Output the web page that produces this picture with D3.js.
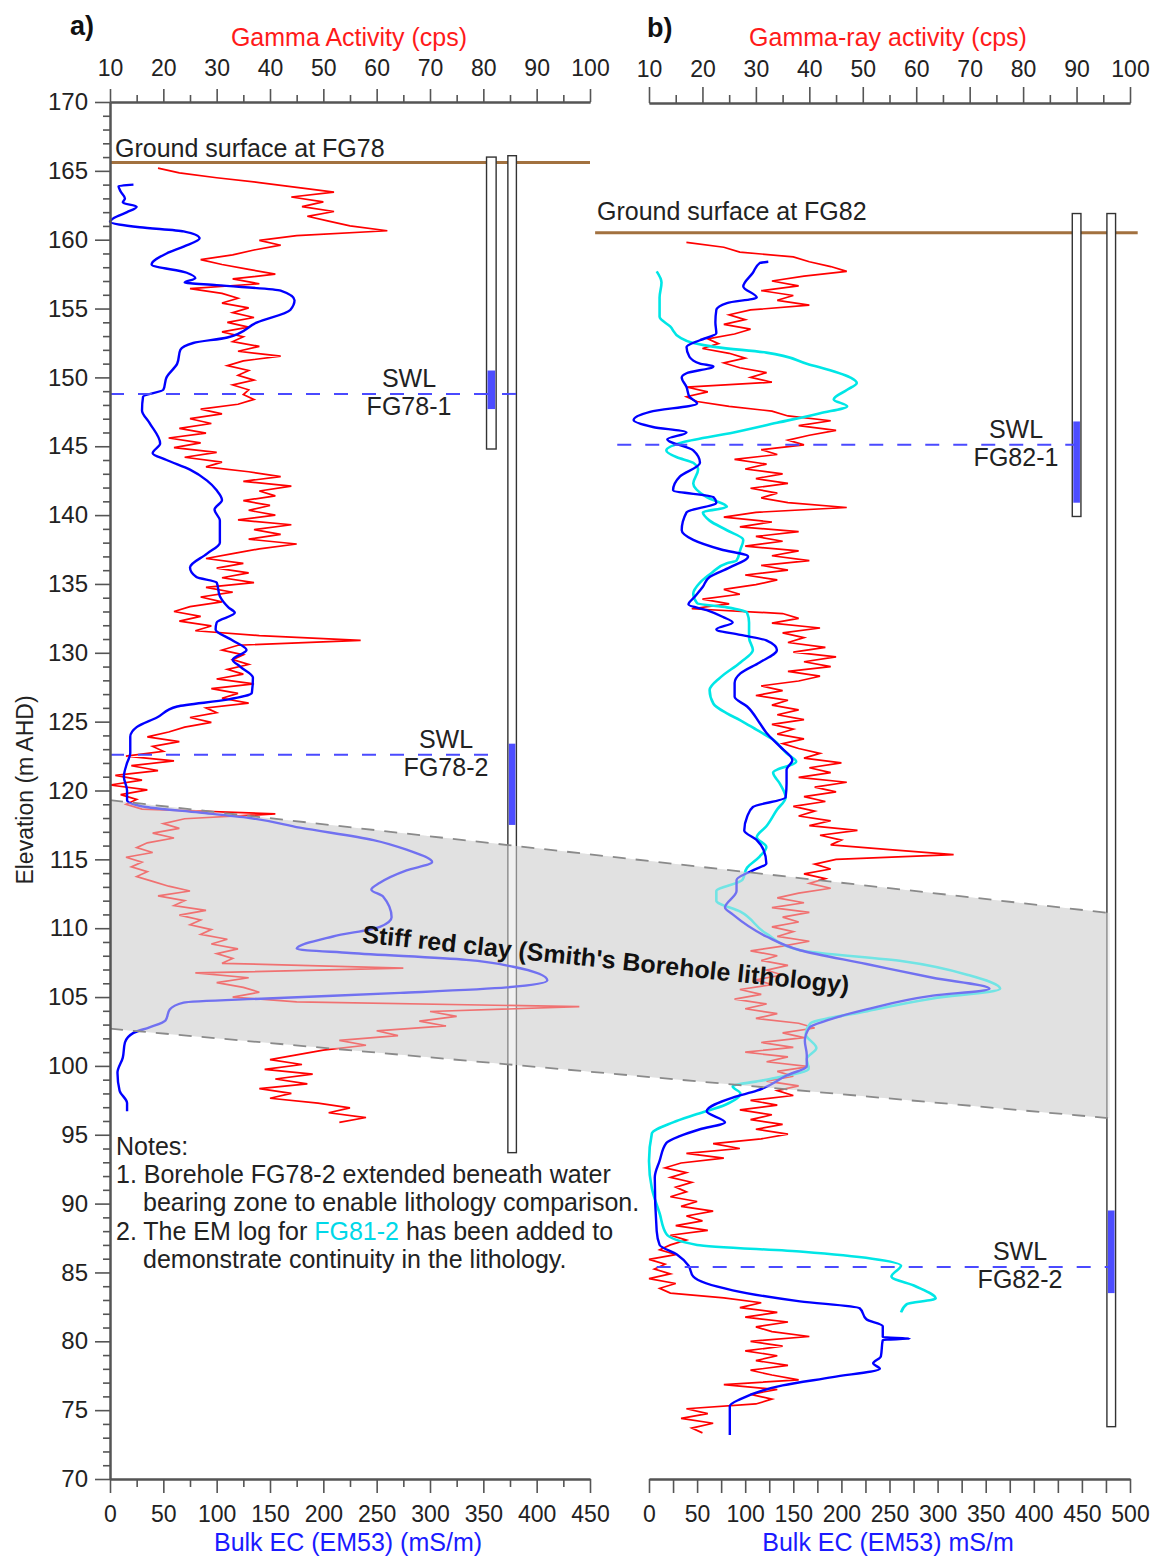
<!DOCTYPE html>
<html><head><meta charset="utf-8">
<script src="https://cdn.jsdelivr.net/npm/d3@7"></script>
<style>
body{margin:0;background:#fff}
text{font-family:"Liberation Sans",Arial,Helvetica,sans-serif;fill:#222}
</style>
</head><body><script>
// ---------------- DATA ----------------
const elevTicks = [70,75,80,85,90,95,100,105,110,115,120,125,130,135,140,145,150,155,160,165,170];
const gammaTicks = [10,20,30,40,50,60,70,80,90,100];
const ecTicksA = [0,50,100,150,200,250,300,350,400,450];
const ecTicksB = [0,50,100,150,200,250,300,350,400,450,500];

// Gamma logs (cps), sampled every 0.35 m downward from the first elevation
const gammaA_start = 165.2, gammaA_step = 0.35;
const gammaA = [19,23,30,38,45,52,44,50,46,52,47,51,55,62,45,38,42,37,33,27,31,36,41,33,38,25,31,34,31,36,33,37,32,36,31,35,33,38,34,42,35,32,36,34,37,33,36,35,37,34,27,31,25,29,23,28,21,27,22,30,24,31,28,36,42,35,44,38,41,35,40,36,41,34,44,37,42,36,45,38,33,28,35,30,36,31,37,28,33,27,31,25,22,27,23,29,26,38,57,34,31,35,33,36,32,35,30,37,29,34,31,36,28,30,25,29,24,21,17,23,18,20,13,22,14,19,11,16,10,17,12,15,13,16,41,24,20,23,18,22,17,15,18,13,16,14,17,15,18,21,25,19,24,22,28,23,27,25,29,27,32,29,34,30,33,31,65,26,36,30,35,38,33,45,98,70,75,68,73,60,64,53,58,50,45,40,46,39,48,41,47,38,44,40,49,55,51,58,53];
const gammaB_start = 159.8, gammaB_step = 0.35;
const gammaB = [17,24,27,37,40,44,47,39,33,38,31,37,34,40,29,25,28,24,29,26,21,23,20,25,28,24,27,32,29,33,17,21,17,19,25,33,36,44,38,45,40,36,39,31,34,26,32,28,35,30,36,29,34,31,36,47,30,24,33,27,38,30,35,28,38,33,40,31,36,28,34,30,24,27,20,25,18,35,38,33,42,35,39,36,43,37,45,39,44,36,42,38,31,35,30,36,33,38,34,39,33,37,34,39,35,38,42,39,46,40,44,38,47,41,45,39,43,37,41,38,44,40,49,42,46,44,55,67,45,41,44,39,43,40,44,38,34,39,33,40,35,38,33,37,34,40,35,29,34,31,36,32,35,30,33,27,31,26,32,28,34,30,38,41,35,39,31,37,28,36,32,40,34,37,32,38,34,37,29,34,27,33,29,35,30,36,31,22,27,17,24,16,13,17,14,18,15,17,14,19,16,22,17,20,15,21,14,17,14,12,15,10,13,11,14,10,15,12,14,24,31,27,34,28,36,30,33,40,29,35,28,34,30,36,29,33,38,24,34,29,33,30,17,21,16,22,18,20];

// Bulk EC logs (mS/m): [elevation, EC]
const ecFG78 = [[164.0,22],[163.9,8],[163.5,10],[163.0,14],[162.7,12],[162.4,25],[162.0,16],[161.6,4],[161.3,0],[160.9,28],[160.6,69],[160.1,84],[159.5,69],[159.0,53],[158.2,39],[157.6,72],[157.2,80],[156.9,70],[156.7,100],[156.3,160],[155.6,173],[154.9,169],[154.0,138],[152.9,110],[152.5,78],[152.0,66],[151.0,63],[150.0,53],[149.1,50],[148.6,31],[147.6,30],[146.7,37],[145.2,47],[144.5,40],[144.0,53],[143.3,75],[142.5,91],[141.8,100],[141.1,105],[140.4,98],[139.6,103],[138.0,103],[137.2,91],[136.2,75],[135.5,81],[135.1,100],[134.1,103],[133.3,111],[132.9,117],[132.2,100],[131.7,99],[130.9,115],[130.2,128],[129.5,115],[129.0,122],[128.2,134],[127.1,133],[126.6,110],[126.1,63],[125.3,44],[124.6,25],[123.9,19],[122.7,19],[122.0,16],[121.0,13],[120.0,16],[119.3,16],[118.8,34],[118.4,84],[118.0,131],[117.3,178],[116.4,247],[115.7,278],[114.8,302],[114.2,278],[113.3,253],[112.8,245],[112.3,256],[110.8,264],[110.1,253],[109.4,209],[108.5,175],[108.2,225],[107.7,334],[107.2,378],[106.2,410],[105.7,372],[105.3,272],[104.9,147],[104.6,69],[104.1,56],[103.3,52],[102.8,37],[102.4,22],[101.7,14],[100.6,12],[99.5,7],[98.2,9],[97.3,16],[96.7,16]];
const ecFG82 = [[158.4,124],[158.3,115],[157.6,108],[156.6,98],[155.8,112],[155.4,81],[154.9,70],[154.0,69],[153.2,70],[152.7,53],[152.2,39],[151.5,42],[151.0,53],[150.8,67],[150.3,39],[150.0,34],[149.3,39],[148.6,42],[148.1,50],[147.5,1],[146.9,-16],[146.4,4],[146.0,39],[145.5,19],[144.7,46],[143.8,53],[142.8,32],[141.8,25],[141.3,67],[140.9,70],[140.2,39],[138.9,34],[138.2,46],[137.5,75],[137.0,103],[136.2,84],[135.5,63],[134.8,56],[134.1,48],[133.5,41],[133.1,60],[132.6,77],[132.2,87],[131.7,70],[131.3,95],[130.9,122],[130.2,133],[129.3,115],[128.5,95],[127.8,89],[126.8,89],[126.1,102],[124.9,115],[124.2,122],[123.2,136],[122.2,149],[121.5,143],[120.5,143],[119.5,142],[118.8,108],[118.1,102],[117.1,99],[116.4,112],[115.7,119],[114.7,122],[114.2,108],[113.5,91],[112.7,91],[111.5,79],[111.0,87],[109.4,122],[108.4,157],[107.4,226],[106.4,295],[105.6,354],[105.1,295],[104.1,226],[103.3,185],[102.8,167],[101.8,162],[100.8,164],[100.0,164],[99.3,143],[98.2,112],[97.7,87],[96.7,60],[95.9,79],[95.4,53],[94.9,32],[94.4,18],[93.1,11],[91.9,6],[88.0,8],[87.0,11],[86.3,29],[85.5,41],[84.7,46],[83.7,87],[82.9,157],[82.4,219],[81.6,226],[81.1,243],[80.3,243],[80.2,271],[80.1,243],[78.9,241],[78.4,233],[78.0,240],[77.4,191],[76.8,139],[75.8,95],[75.3,84],[73.2,84]];
const ecFG81 = [[157.7,8],[156.9,13],[155.8,11],[154.4,11],[153.7,22],[152.9,32],[152.5,46],[152.2,70],[151.8,122],[151.0,164],[150.0,209],[149.6,216],[149.1,206],[148.4,192],[147.9,206],[147.4,178],[146.7,133],[146.0,88],[145.3,36],[144.7,18],[144.2,29],[143.8,46],[143.3,51],[142.3,46],[141.3,60],[140.6,81],[140.2,56],[139.6,63],[138.9,81],[138.2,98],[137.5,95],[136.7,91],[136.5,81],[135.8,65],[135.1,53],[134.3,46],[133.6,50],[133.3,81],[132.9,102],[132.2,104],[131.1,104],[130.2,108],[129.3,95],[128.2,74],[127.3,63],[126.3,67],[125.6,81],[125.1,95],[124.4,112],[123.7,129],[122.7,143],[122.1,153],[121.3,129],[120.5,136],[119.5,142],[118.6,133],[117.4,122],[116.6,112],[115.9,122],[115.2,115],[114.4,102],[113.5,97],[112.7,70],[112.0,70],[111.2,95],[109.6,122],[108.4,157],[107.6,264],[106.6,332],[105.6,365],[104.9,295],[103.9,221],[103.1,168],[102.3,163],[101.3,174],[100.5,164],[99.8,166],[99.0,122],[98.5,87],[98.0,95],[97.2,80],[96.5,50],[95.9,25],[95.1,3],[93.1,0],[91.1,3],[89.3,11],[87.8,18],[87.0,50],[86.5,160],[86.0,232],[85.5,262],[84.7,252],[84.0,277],[83.1,298],[82.7,268],[82.1,262]];

// Clay band (elevations at left edge of panel a and right edge of panel b)
const clayBand = {topLeft:119.3, topRight:111.1, botLeft:102.7, botRight:96.2, ecRightB:479};
// Piezometers: [ecLeft, ecRight, topElev, bottomElev, screenTop, screenBottom]
const tubesA = [[353,362,166.0,144.8,150.5,147.7],[373,381,166.1,93.7,123.4,117.5]];
const tubesB = [[440,449,161.9,139.9,146.8,140.9],[476,485,161.9,73.8,89.5,83.5]];
// SWL lines: [elev, ecFrom, ecTo, label]
const swlA = [[148.8,0,381,"FG78-1"],[122.6,0,356,"FG78-2"]];
const swlB = [[145.1,-33,443,"FG82-1"],[85.4,8,479,"FG82-2"]];
const groundA = 165.6, groundB = 160.5;

// ---------------- SCALES ----------------
const svg = d3.select("body").append("svg").attr("width",1158).attr("height",1558);
const y = d3.scaleLinear().domain([70,170]).range([1479,102]);
const xGA = d3.scaleLinear().domain([10,100]).range([110,590]);
const xEA = d3.scaleLinear().domain([0,450]).range([110,590]);
const xGB = d3.scaleLinear().domain([10,100]).range([649,1130]);
const xEB = d3.scaleLinear().domain([0,500]).range([649,1130]);

const FONT = '"Liberation Sans",Arial,sans-serif';
const BAND = "#e1e1e1";

// clay band base
const bandPts = [[xEA(0),y(clayBand.topLeft)],[xEB(clayBand.ecRightB),y(clayBand.topRight)],
                 [xEB(clayBand.ecRightB),y(clayBand.botRight)],[xEA(0),y(clayBand.botLeft)]];
svg.append("polygon").attr("points",bandPts.map(p=>p.join(",")).join(" ")).attr("fill",BAND);

// ground surface
svg.append("line").attr("x1",xEA(0)).attr("x2",xEA(450)).attr("y1",y(groundA)).attr("y2",y(groundA))
  .attr("stroke","#a2713f").attr("stroke-width",3);
svg.append("line").attr("x1",xEB(-56)).attr("x2",xEB(508)).attr("y1",y(groundB)).attr("y2",y(groundB))
  .attr("stroke","#a2713f").attr("stroke-width",3);
svg.append("text").attr("x",115).attr("y",157).attr("font-size",25).text("Ground surface at FG78");
svg.append("text").attr("x",597).attr("y",220).attr("font-size",25).text("Ground surface at FG82");

// tubes
function drawTubes(list, xs){
  list.forEach(t=>{
    svg.append("rect").attr("x",xs(t[0])).attr("y",y(t[2])).attr("width",xs(t[1])-xs(t[0]))
      .attr("height",y(t[3])-y(t[2])).attr("fill","#fff").attr("stroke","#333").attr("stroke-width",1.4);
    svg.append("rect").attr("x",xs(t[0])+1).attr("y",y(t[4])).attr("width",xs(t[1])-xs(t[0])-2)
      .attr("height",y(t[5])-y(t[4])).attr("fill","#4d4dff");
  });
}
drawTubes(tubesA,xEA); drawTubes(tubesB,xEB);

// curves
const gA = gammaA.map((v,i)=>({e:gammaA_start-i*gammaA_step, v}));
const gB = gammaB.map((v,i)=>({e:gammaB_start-i*gammaB_step, v}));
svg.append("path").datum(gA).attr("fill","none").attr("stroke","#ff0000").attr("stroke-width",1.7)
  .attr("stroke-linejoin","miter").attr("d",d3.line().x(d=>xGA(d.v)).y(d=>y(d.e)));
svg.append("path").datum(gB).attr("fill","none").attr("stroke","#ff0000").attr("stroke-width",1.7)
  .attr("stroke-linejoin","miter").attr("d",d3.line().x(d=>xGB(d.v)).y(d=>y(d.e)));
const ecLine = xs => d3.line().x(d=>xs(d[1])).y(d=>y(d[0])).curve(d3.curveMonotoneY);
svg.append("path").datum(ecFG81).attr("fill","none").attr("stroke","#00e6e6").attr("stroke-width",2.6).attr("d",ecLine(xEB));
svg.append("path").datum(ecFG82).attr("fill","none").attr("stroke","#0000ff").attr("stroke-width",2.4).attr("d",ecLine(xEB));
svg.append("path").datum(ecFG78).attr("fill","none").attr("stroke","#0000ff").attr("stroke-width",2.4).attr("d",ecLine(xEA));

// band overlay + dashed edges
svg.append("polygon").attr("points",bandPts.map(p=>p.join(",")).join(" ")).attr("fill",BAND).attr("opacity",0.5);
[[bandPts[0],bandPts[1]],[bandPts[3],bandPts[2]]].forEach(s=>{
  svg.append("line").attr("x1",s[0][0]).attr("y1",s[0][1]).attr("x2",s[1][0]).attr("y2",s[1][1])
    .attr("stroke","#8a8a8a").attr("stroke-width",1.8).attr("stroke-dasharray","13,10");
});

// SWL lines and labels
function drawSwl(list, xs, labelX){
  list.forEach((s,i)=>{
    svg.append("line").attr("x1",xs(s[1])).attr("x2",xs(s[2])).attr("y1",y(s[0])).attr("y2",y(s[0]))
      .attr("stroke","#4a4aff").attr("stroke-width",2).attr("stroke-dasharray","14,14");
    const lx = labelX[i];
    svg.append("text").attr("x",lx).attr("y",y(s[0])-7).attr("text-anchor","middle").attr("font-size",25).text("SWL");
    svg.append("text").attr("x",lx).attr("y",y(s[0])+21).attr("text-anchor","middle").attr("font-size",25).text(s[3]);
  });
}
drawSwl(swlA, xEA, [409,446]);
drawSwl(swlB, xEB, [1016,1020]);

// clay label
svg.append("text").attr("transform","translate(605,968) rotate(6)").attr("text-anchor","middle")
  .attr("font-size",25).attr("font-weight","bold").style("fill","#111")
  .text("Stiff red clay (Smith's Borehole lithology)");

// ---------------- AXES ----------------
function styleAxis(g, fs){
  g.selectAll(".domain").attr("stroke","#555").attr("stroke-width",2);
  g.selectAll(".tick line").attr("stroke","#555").attr("stroke-width",1.6);
  g.selectAll("text").attr("font-family",FONT).attr("font-size",fs).attr("fill","#222");
  g.attr("font-family",FONT);
}
// Panel a left
const minorElev = d3.range(70,171).filter(v=>v%5!==0);
styleAxis(svg.append("g").attr("transform","translate(110,0)")
  .call(d3.axisLeft(y).tickValues(minorElev).tickSize(7).tickFormat("").tickSizeOuter(0)),24);
styleAxis(svg.append("g").attr("transform","translate(110,0)")
  .call(d3.axisLeft(y).tickValues(elevTicks).tickSize(15).tickPadding(7).tickSizeOuter(0)),24);
// Panel a top
const minorG = [15,25,35,45,55,65,75,85,95];
styleAxis(svg.append("g").attr("transform","translate(0,102)")
  .call(d3.axisTop(xGA).tickValues(minorG).tickSize(7).tickFormat("").tickSizeOuter(0)),23);
styleAxis(svg.append("g").attr("transform","translate(0,102)")
  .call(d3.axisTop(xGA).tickValues(gammaTicks).tickSize(13).tickPadding(13).tickSizeOuter(0)),23);
// Panel a bottom
styleAxis(svg.append("g").attr("transform","translate(0,1479)")
  .call(d3.axisBottom(xEA).tickValues([25,75,125,175,225,275,325,375,425]).tickSize(8).tickFormat("").tickSizeOuter(0)),23);
styleAxis(svg.append("g").attr("transform","translate(0,1479)")
  .call(d3.axisBottom(xEA).tickValues(ecTicksA).tickSize(14).tickPadding(13).tickSizeOuter(0)),23);
// Panel b top
styleAxis(svg.append("g").attr("transform","translate(0,103)")
  .call(d3.axisTop(xGB).tickValues(minorG).tickSize(8).tickFormat("").tickSizeOuter(0)),23);
styleAxis(svg.append("g").attr("transform","translate(0,103)")
  .call(d3.axisTop(xGB).tickValues(gammaTicks).tickSize(16).tickPadding(10).tickSizeOuter(0)),23);
// Panel b bottom
styleAxis(svg.append("g").attr("transform","translate(0,1479)")
  .call(d3.axisBottom(xEB).tickValues([25,75,125,175,225,275,325,375,425,475]).tickSize(14).tickFormat("").tickSizeOuter(0)),23);
styleAxis(svg.append("g").attr("transform","translate(0,1479)")
  .call(d3.axisBottom(xEB).tickValues(ecTicksB).tickSize(14).tickPadding(13).tickSizeOuter(0)),23);

// titles
svg.append("text").attr("x",70).attr("y",35).attr("font-size",27).attr("font-weight","bold").style("fill","#111").text("a)");
svg.append("text").attr("x",647).attr("y",37).attr("font-size",27).attr("font-weight","bold").style("fill","#111").text("b)");
svg.append("text").attr("x",349).attr("y",46).attr("text-anchor","middle").attr("font-size",25).style("fill","#ff1a1a").text("Gamma Activity (cps)");
svg.append("text").attr("x",888).attr("y",46).attr("text-anchor","middle").attr("font-size",25).style("fill","#ff1a1a").text("Gamma-ray activity (cps)");
svg.append("text").attr("x",348).attr("y",1551).attr("text-anchor","middle").attr("font-size",25).style("fill","#1a1aff").text("Bulk EC (EM53) (mS/m)");
svg.append("text").attr("x",888).attr("y",1551).attr("text-anchor","middle").attr("font-size",25).style("fill","#1a1aff").text("Bulk EC (EM53) mS/m");
svg.append("text").attr("transform","translate(33,790) rotate(-90)").attr("text-anchor","middle").attr("font-size",23).text("Elevation (m AHD)");

// notes
const notes = svg.append("g").attr("font-size",25);
notes.append("text").attr("x",116).attr("y",1155).text("Notes:");
notes.append("text").attr("x",116).attr("y",1183).text("1. Borehole FG78-2 extended beneath water");
notes.append("text").attr("x",143).attr("y",1211).text("bearing zone to enable lithology comparison.");
const n2 = notes.append("text").attr("x",116).attr("y",1240);
n2.append("tspan").text("2. The EM log for ");
n2.append("tspan").style("fill","#00d8e8").text("FG81-2");
n2.append("tspan").text(" has been added to");
notes.append("text").attr("x",143).attr("y",1268).text("demonstrate continuity in the lithology.");
</script></body></html>
